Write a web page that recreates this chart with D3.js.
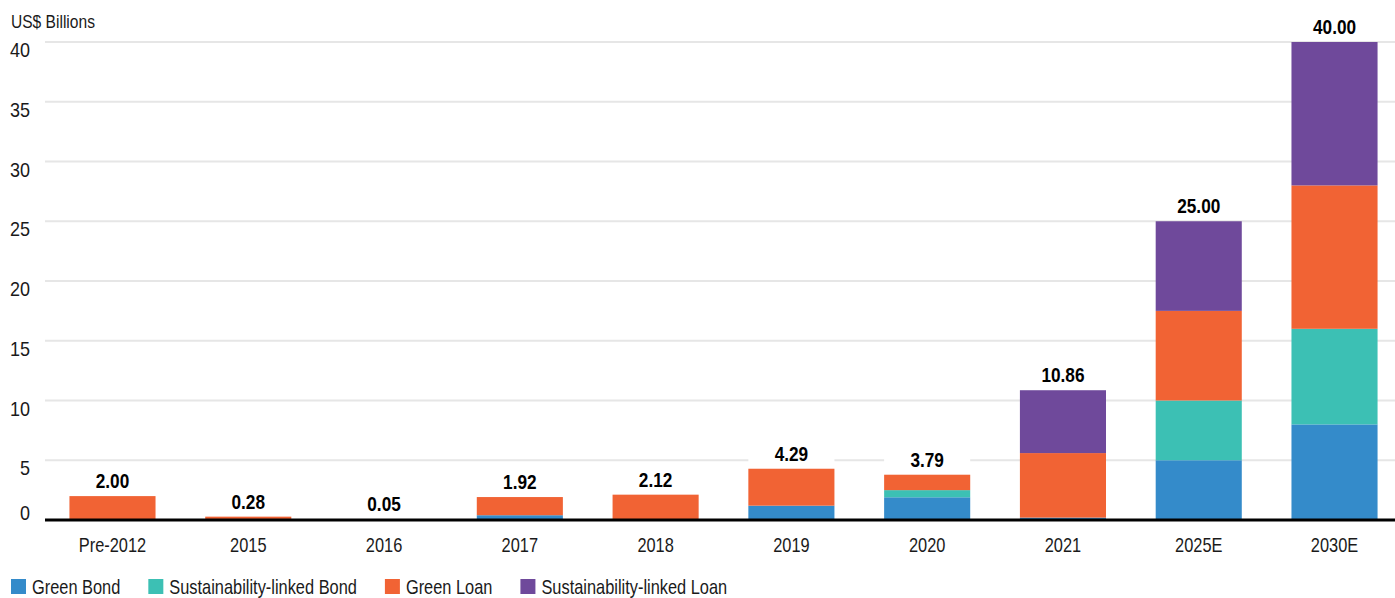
<!DOCTYPE html>
<html>
<head>
<meta charset="utf-8">
<script src="https://cdn.jsdelivr.net/npm/d3@7"></script>
<style>
  html, body { margin: 0; padding: 0; background: #fff; }
  svg { display: block; }
  text { font-family: "Liberation Sans", Arial, sans-serif; fill: #1a1a1a; }
</style>
</head>
<body>
<svg id="chart" width="1395" height="598"></svg>
<script>
// Issuance by year, US$ billions
const categories = ["Pre-2012", "2015", "2016", "2017", "2018", "2019", "2020", "2021", "2025E", "2030E"];
const seriesNames = ["Green Bond", "Sustainability-linked Bond", "Green Loan", "Sustainability-linked Loan"];
const greenBond = [0, 0, 0, 0.40, 0, 1.20, 1.90, 0.20, 5, 8];
const slBond    = [0, 0, 0, 0, 0, 0, 0.60, 0, 5, 8];
const greenLoan = [2.00, 0.28, 0.05, 1.52, 2.12, 3.09, 1.29, 5.40, 7.5, 12];
const slLoan    = [0, 0, 0, 0, 0, 0, 0, 5.26, 7.5, 12];
const totals    = [2.00, 0.28, 0.05, 1.92, 2.12, 4.29, 3.79, 10.86, 25.00, 40.00];
const yTicks    = [0, 5, 10, 15, 20, 25, 30, 35, 40];
const colors    = ["#348bca", "#3cc0b4", "#f16334", "#6f499b"];

const NARROW = 0.82; // horizontal squeeze for a condensed look

// position a text node at (px, py) with a narrow horizontal scale
function place(sel, px, py, k = NARROW) {
  return sel.attr("transform", (d, i) => {
    const X = typeof px === "function" ? px(d, i) : px;
    const Y = typeof py === "function" ? py(d, i) : py;
    return `translate(${X},${Y}) scale(${k},1)`;
  });
}

const svg = d3.select("#chart");
const W = 1395;

const x = d3.scaleBand().domain(categories).range([45, 1402]).paddingInner(0.366).paddingOuter(0.18);
const y = d3.scaleLinear().domain([0, 40]).range([520, 42]);

// gridlines
svg.append("g").selectAll("line").data(yTicks.filter(d => d > 0)).join("line")
  .attr("x1", 45).attr("x2", W)
  .attr("y1", d => y(d)).attr("y2", d => y(d))
  .attr("stroke", "#e6e6e6").attr("stroke-width", 2);

// y tick labels
place(svg.append("g").selectAll("text").data(yTicks).join("text")
  .attr("text-anchor", "end")
  .attr("font-size", 20)
  .text(d => d), 30, d => d === 0 ? y(d) : y(d) + 15, 0.9);

place(svg.append("text").attr("font-size", 19).text("US$ Billions"), 11, 28);

// stacked bars
const rows = categories.map((c, i) => ({
  cat: c,
  "Green Bond": greenBond[i],
  "Sustainability-linked Bond": slBond[i],
  "Green Loan": greenLoan[i],
  "Sustainability-linked Loan": slLoan[i]
}));
const stacked = d3.stack().keys(seriesNames)(rows);

svg.append("g").selectAll("g").data(stacked).join("g")
  .attr("fill", (d, i) => colors[i])
  .selectAll("rect").data(d => d).join("rect")
  .attr("x", d => x(d.data.cat))
  .attr("width", x.bandwidth())
  .attr("y", d => y(d[1]))
  .attr("height", d => Math.max(0, y(d[0]) - y(d[1])));

// total labels with white backing
const lab = svg.append("g").selectAll("g").data(categories).join("g");
lab.append("rect")
  .attr("x", d => x(d))
  .attr("width", x.bandwidth())
  .attr("y", (d, i) => y(totals[i]) - 27)
  .attr("height", 23)
  .attr("fill", "#fff");
place(lab.append("text")
  .attr("text-anchor", "middle")
  .attr("font-size", 21)
  .attr("font-weight", "bold")
  .style("fill", "#000")
  .text((d, i) => totals[i].toFixed(2)),
  d => x(d) + x.bandwidth() / 2, (d, i) => y(totals[i]) - 8);

// baseline
svg.append("line").attr("x1", 45).attr("x2", W).attr("y1", 520).attr("y2", 520)
  .attr("stroke", "#000").attr("stroke-width", 3);

// x axis labels
place(svg.append("g").selectAll("text").data(categories).join("text")
  .attr("text-anchor", "middle")
  .attr("font-size", 20)
  .text(d => d), d => x(d) + x.bandwidth() / 2, 552);

// legend
const legend = svg.append("g");
let lx = 11;
seriesNames.forEach((name, i) => {
  legend.append("rect").attr("x", lx).attr("y", 579).attr("width", 15).attr("height", 15).attr("fill", colors[i]);
  const t = place(legend.append("text").attr("font-size", 20).text(name), lx + 21, 594);
  lx += 21 + t.node().getComputedTextLength() * NARROW + 28;
});
</script>
</body>
</html>
